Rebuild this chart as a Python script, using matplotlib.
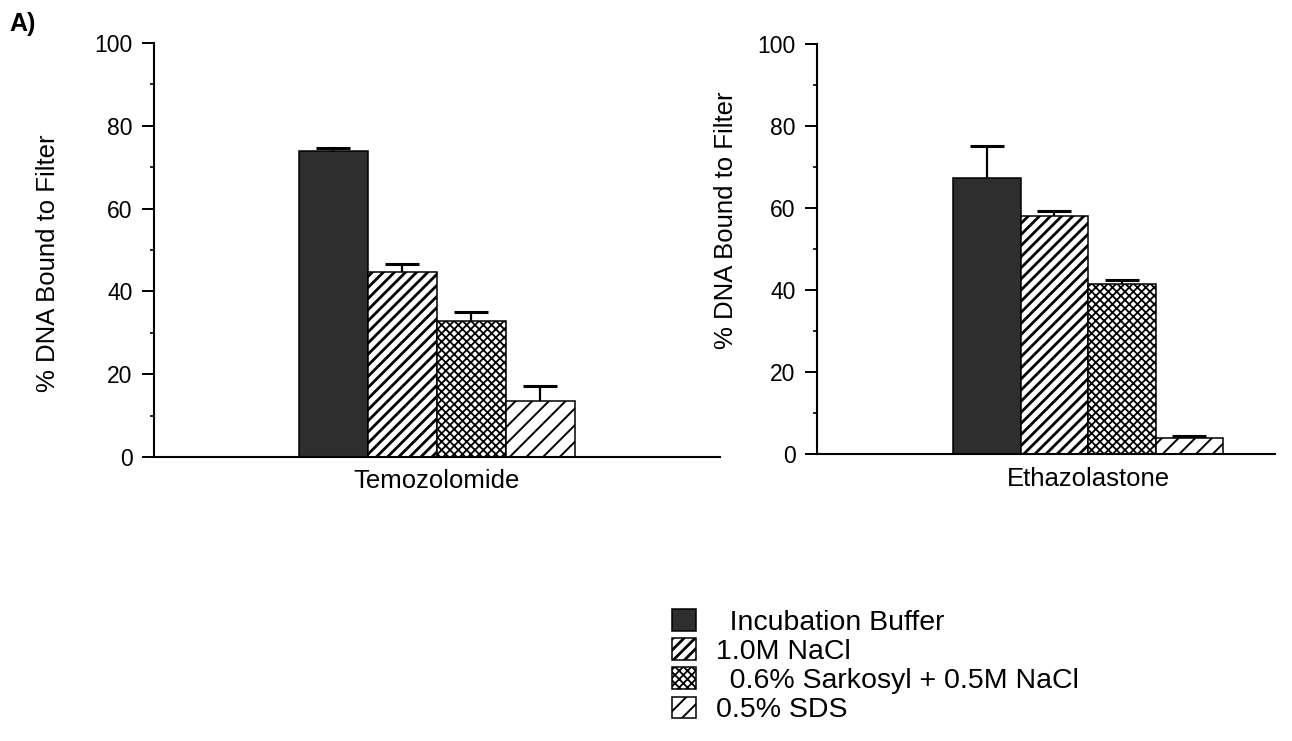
"""
filter binding assay: % DNA retained on the filter after washing
with different buffers, for temozolomide and ethazolastone
"""

import numpy as np
import matplotlib
matplotlib.use('Agg')
from matplotlib import pyplot as plt
from matplotlib.ticker import MultipleLocator

plt.rcParams['font.family'] = ['Liberation Sans', 'DejaVu Sans']

drugs = ['Temozolomide', 'Ethazolastone']
washes = [' \u2009Incubation Buffer', '1.0M NaCl',
          ' \u20090.6% Sarkosyl + 0.5M NaCl', '0.5% SDS']

# % DNA bound, one list per drug, in wash order
temozolomide = [74.0, 44.8, 32.9, 13.5]
temozolomide_err = [0.6, 1.7, 2.0, 3.7]
ethazolastone = [67.2, 58.0, 41.5, 3.8]
ethazolastone_err = [7.9, 1.3, 0.9, 0.6]

# bar looks per wash
faces = ['#2e2e2e', 'white', 'white', 'white']
hatches = [None, '///', 'xxxx', '//']
hatch_lw = [1.0, 2.0, 1.3, 1.4]

W = 0.25
offsets = (np.arange(4) - 1.5) * W

fig = plt.figure(figsize=(12.92, 7.41), dpi=100)
ax1 = fig.add_axes([0.1192, 0.3833, 0.4381, 0.5587])
ax2 = fig.add_axes([0.6324, 0.3873, 0.3545, 0.5533])


def set_hatch_lw(patch, lw):
    if hasattr(patch, 'set_hatch_linewidth'):
        patch.set_hatch_linewidth(lw)
    else:
        patch._hatch_linewidth = lw


def draw_panel(ax, name, vals, errs, xlim, ylab_x, ylab_y):
    handles = []
    for i in range(4):
        with plt.rc_context({'hatch.linewidth': hatch_lw[i]}):
            b = ax.bar(offsets[i], vals[i], W, color=faces[i], hatch=hatches[i],
                       edgecolor='black', linewidth=1.1, zorder=2,
                       label=washes[i])
        for p in b:
            set_hatch_lw(p, hatch_lw[i])
        handles.append(b)
    # only the upper half of the error bar is drawn
    eb = ax.errorbar(offsets, vals, yerr=[np.zeros(4), errs], fmt='none',
                     ecolor='black', elinewidth=1.6, capsize=12, capthick=2.2,
                     zorder=3)
    for cap in eb[1]:
        if np.allclose(cap.get_ydata(), vals):
            cap.set_visible(False)

    ax.set_xlim(*xlim)
    ax.set_ylim(0, 100)
    ax.yaxis.set_major_locator(MultipleLocator(20))
    ax.yaxis.set_minor_locator(MultipleLocator(10))
    ax.set_xticks([0])
    ax.set_xticklabels([name], fontsize=18.5)
    ax.tick_params(axis='x', length=0, pad=9)
    ax.tick_params(axis='y', which='major', length=8.5, width=1.4,
                   labelsize=16.5, pad=7)
    ax.tick_params(axis='y', which='minor', length=3, width=1.2)
    for s in ['top', 'right']:
        ax.spines[s].set_visible(False)
    for s in ['left', 'bottom']:
        ax.spines[s].set_linewidth(1.5)

    ax.set_ylabel('% DNA Bound to Filter', fontsize=18.5)
    ax.yaxis.set_label_coords(ylab_x, ylab_y)
    ax.yaxis.label.set_verticalalignment('center')
    return handles


handles = draw_panel(ax1, drugs[0], temozolomide, temozolomide_err,
                     (-1.024, 1.027), -0.187, 0.467)
draw_panel(ax2, drugs[1], ethazolastone, ethazolastone_err,
           (-1.004, 0.693), -0.199, 0.571)

fig.text(0.007, 0.968, 'A)', fontsize=18, fontweight='bold', va='center')

leg = fig.legend(handles=handles, labels=washes, loc='upper left',
                 bbox_to_anchor=(0.520, 0.178), frameon=False, fontsize=20.5,
                 handlelength=0.85, handleheight=0.78, handletextpad=0.7,
                 labelspacing=0.09, borderpad=0, borderaxespad=0)
for p, lw in zip(leg.get_patches(), hatch_lw):
    set_hatch_lw(p, lw)

fig.savefig('out.png', dpi=100)
